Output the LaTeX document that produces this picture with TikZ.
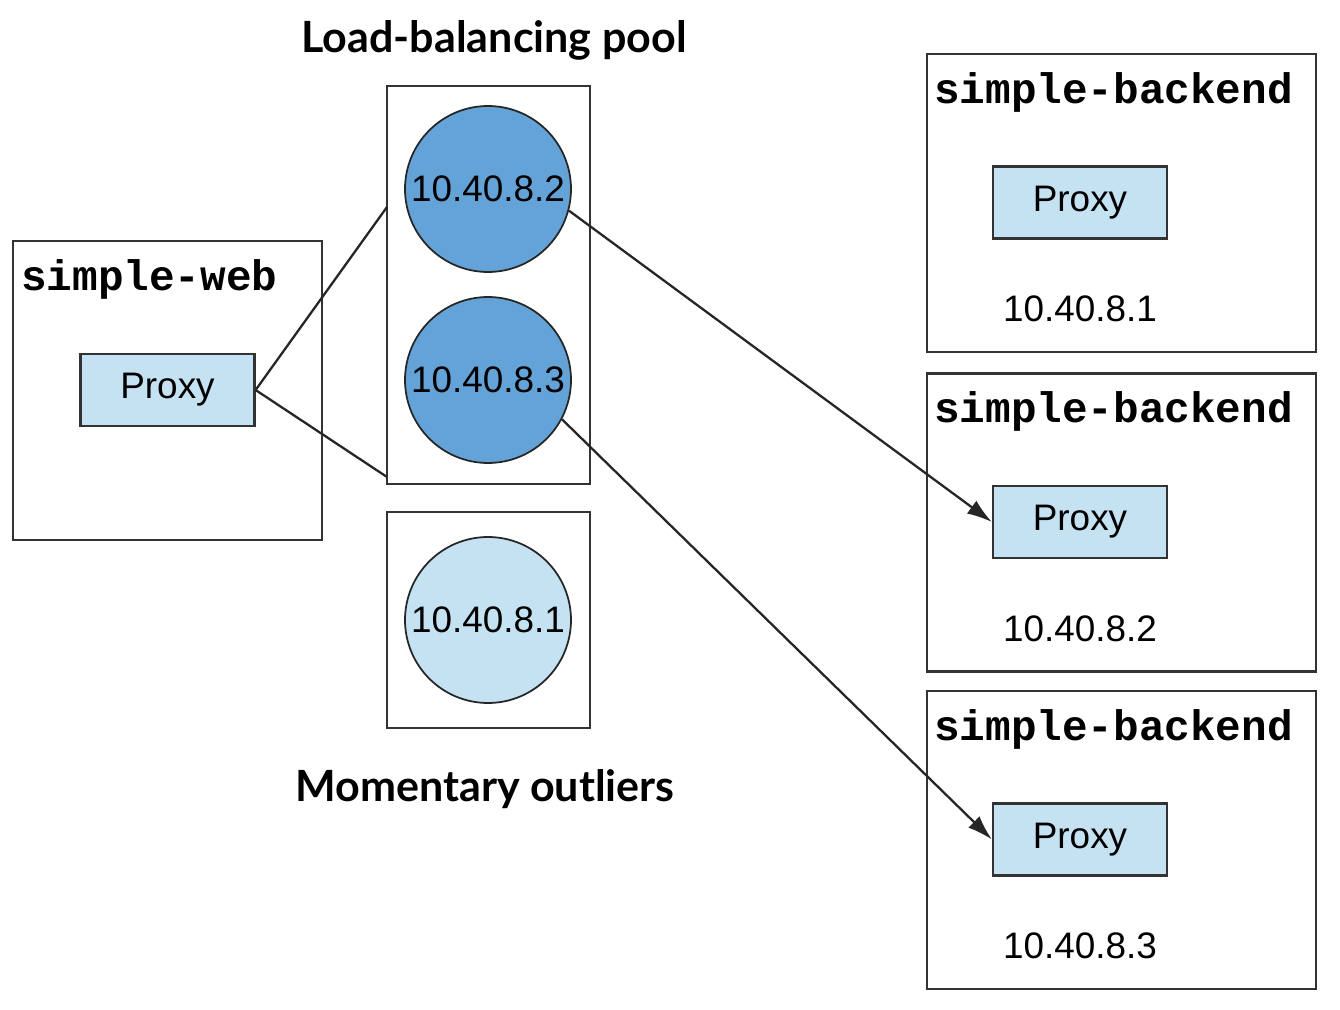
\documentclass[tikz,border=0pt]{standalone}
\usepackage{fontspec}
\setmainfont{Liberation Sans}
\setmonofont{Liberation Mono}
\newfontfamily\headfont{Lato}
\usepackage{tikz}
\usetikzlibrary{positioning, arrows.meta, calc}
\definecolor{paleblue}{HTML}{C5E2F3}
\definecolor{poolblue}{HTML}{64A3D8}
\definecolor{edgegray}{HTML}{333333}
\tikzset{
  hostbox/.style={draw=edgegray, line width=1.3pt, rectangle, inner sep=0pt},
  proxybox/.style={draw=edgegray, line width=1.3pt, rectangle, fill=paleblue, minimum width=3.48cm, minimum height=1.44cm, font=\fontsize{21}{24}\selectfont},
  ipnode/.style={draw=black!85, line width=1pt, circle, minimum size=3.32cm, inner sep=0pt, font=\fontsize{21}{24}\selectfont},
  hostname/.style={anchor=west, font=\ttfamily\bfseries\fontsize{24.3}{28}\selectfont},
  iplabel/.style={font=\fontsize{21}{24}\selectfont},
  heading/.style={font=\headfont\bfseries\fontsize{24.5}{30}\selectfont},
  link/.style={draw=black!85, line width=1.3pt}
}
\begin{document}
\begin{tikzpicture}[x=0.02cm, y=-0.02cm]
  \useasboundingbox (0,0) rectangle (1340,1010);
  % Client side
  \node[hostbox, minimum width=6.18cm, minimum height=5.98cm] (web) at (167.5,390.5) {};
  \node[hostname] (webname) at (15,279) {simple-web};
  \node[proxybox] (webproxy) at (167.5,390) {Proxy};

  % Load-balancing pool and outliers
  \node[heading] (pooltitle) at (494,40) {Load-balancing pool};
  \node[hostbox, minimum width=4.06cm, minimum height=7.96cm] (pool) at (488.5,285) {};
  \node[ipnode, fill=poolblue] (ip2) at (488,189) {10.40.8.2};
  \node[ipnode, fill=poolblue] (ip3) at (488,380) {10.40.8.3};
  \node[hostbox, minimum width=4.06cm, minimum height=4.32cm] (outliers) at (488.5,620) {};
  \node[ipnode, fill=paleblue] (ip1) at (488,620) {10.40.8.1};
  \node[heading] (outtitle) at (485,789) {Momentary outliers};

  % Backends
  \foreach \i/\y/\addr in {1/203/10.40.8.1, 2/522.5/10.40.8.2, 3/840/10.40.8.3} {
    \node[hostbox, minimum width=7.78cm, minimum height=5.96cm] (backend\i) at (1121.5,\y) {};
    \node[hostname] (bname\i) at (928,\y-111) {simple-backend};
    \node[proxybox] (bproxy\i) at (1080,\y-0.5) {Proxy};
    \node[iplabel] (baddr\i) at (1080,\y+106) {\addr};
  }

  % Connections
  \coordinate (poolin1) at (387,207);
  \coordinate (poolin2) at (387,477);
  \draw[link] (webproxy.east) -- (poolin1);
  \draw[link] (webproxy.east) -- (poolin2);
  \draw[link, -{Latex[length=5mm, width=3.2mm]}] (ip2.-15) -- (bproxy2.west);
  \draw[link, -{Latex[length=5mm, width=3.2mm]}] (ip3.-28) -- (bproxy3.west);
\end{tikzpicture}
\end{document}
